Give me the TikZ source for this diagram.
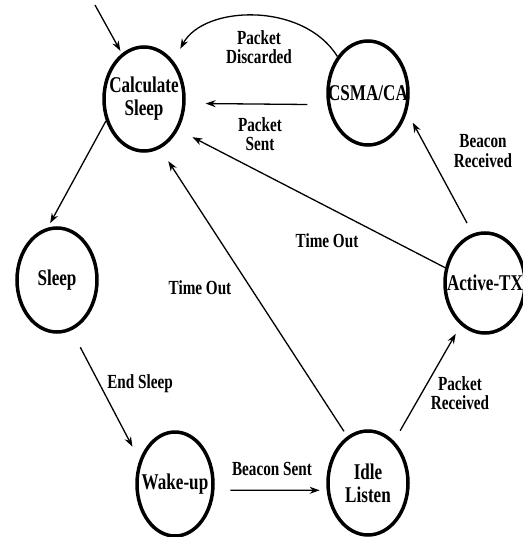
\documentclass[tikz,border=0pt]{standalone}
\usepackage{fontspec}
\setmainfont{Liberation Serif}[FakeStretch=0.76]
\usetikzlibrary{shapes.geometric, arrows.meta}

\begin{document}
\begin{tikzpicture}[x=1pt, y=-1pt,
  state/.style={draw, ellipse, line width=3.5pt, inner xsep=-14pt, inner ysep=0pt,
    minimum width=80pt, minimum height=104pt, align=center,
    font=\bfseries\fontsize{22.5}{23}\selectfont},
  trans/.style={-{Stealth[length=10pt, width=7pt]}, line width=1.3pt},
  lbl/.style={align=center, font=\bfseries\fontsize{20}{19.5}\selectfont}]
\useasboundingbox (0,0) rectangle (522,537);

% states
\node[state] (calc) at (144,99) {Calculate\\Sleep};
\node[state] (csma) at (368,93) {CSMA/CA};
\node[state] (sleep) at (57,280) {Sleep};
\node[state, minimum width=76pt] (wake) at (175,484) {Wake-up};
\node[state] (idle) at (368,483) {Idle\\Listen};
\node[state, minimum height=100pt] (active) at (485,283) {Active-TX};

% transitions
\coordinate (entry) at (95,5);
\draw[trans, shorten >=3pt] (entry) -- (calc.116);
\draw[trans, shorten >=14pt] (csma.130) to[bend right=60] (calc.52);
\draw[trans, shorten <=20pt, shorten >=20pt] (csma.196) -- (calc.-6);
\draw[trans, shorten <=12pt, shorten >=12pt] (active.104) -- (csma.-26);
\draw[trans, shorten >=16pt] (active.159) -- (calc.-42);
\draw[trans, shorten <=6pt, shorten >=15pt] (idle.114) -- (calc.-72);
\draw[trans, shorten >=5pt] (calc.210) -- (sleep.100);
\draw[trans, shorten <=19pt, shorten >=15pt] (sleep.-74) -- (wake.146);
\draw[trans, shorten <=16pt, shorten >=7pt] (wake.-9) -- (idle.190);
\draw[trans, shorten <=12pt, shorten >=10pt] (idle.58) -- (active.240);

% labels
\node[lbl] (ldisc) at (259,47) {Packet\\Discarded};
\node[lbl] (lsent) at (260,134) {Packet\\Sent};
\node[lbl] (lbeacon) at (483,151) {Beacon\\Received};
\node[lbl] (ltoa) at (327,241) {Time Out};
\node[lbl] (ltoi) at (200,288) {Time Out};
\node[lbl] (lend) at (140,384) {End Sleep};
\node[lbl] (lbsent) at (272,469) {Beacon Sent};
\node[lbl] (lrecv) at (460,393) {Packet\\Received};
\end{tikzpicture}
\end{document}
